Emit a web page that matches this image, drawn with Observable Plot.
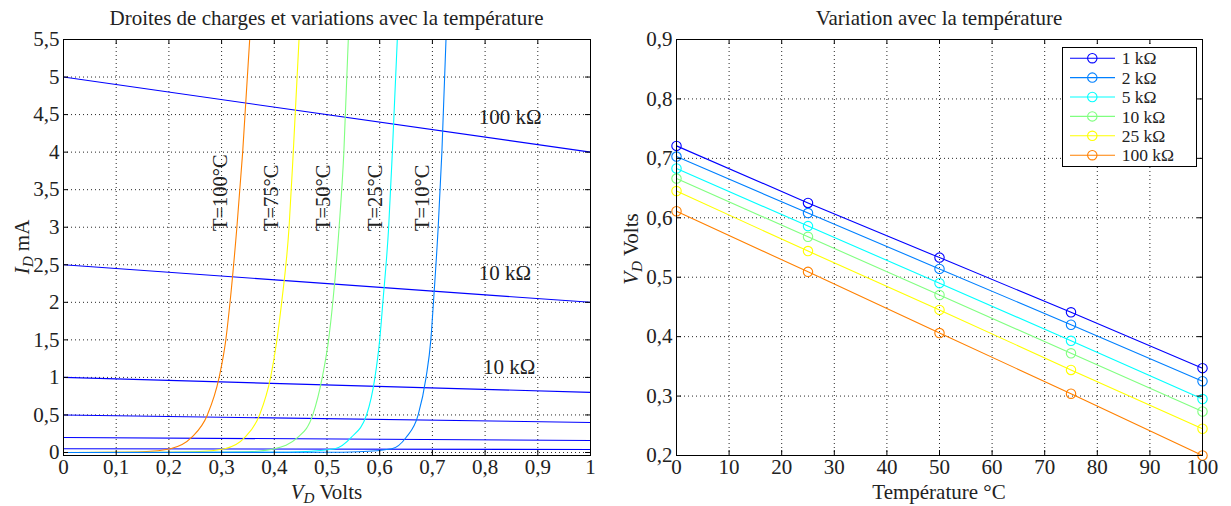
<!DOCTYPE html>
<html><head><meta charset="utf-8">
<script src="https://cdn.jsdelivr.net/npm/d3@7"></script>
<script src="https://cdn.jsdelivr.net/npm/@observablehq/plot@0.6"></script>
<style>
body{margin:0;background:#fff;}
#wrap{position:relative;width:1231px;height:506px;overflow:hidden;background:#fff;}
#wrap svg{position:absolute;top:0;}
</style></head><body><div id="wrap"></div>
<script>
// ---------- Left chart data ----------
const leftXTicks = [0, 0.1, 0.2, 0.3, 0.4, 0.5, 0.6, 0.7, 0.8, 0.9, 1];
const leftYTicks = [0, 0.5, 1, 1.5, 2, 2.5, 3, 3.5, 4, 4.5, 5, 5.5];
const loadStartI = [5, 2.5, 1, 0.5, 0.2, 0.05];   // mA at VD = 0
const loadEndI   = [4, 2, 0.8, 0.4, 0.16, 0.04];  // mA at VD = 1
const loadLabels = ["100 kΩ", "10 kΩ", "10 kΩ"];
const loadLabelX = [0.788, 0.788, 0.796];
const loadLabelY = [4.46, 2.39, 1.135];
const curveNames  = ["T=100°C", "T=75°C", "T=50°C", "T=25°C", "T=10°C"];
const curveColors = ["#ff8000", "#ffff00", "#80ff80", "#00ffff", "#0080ff"];
const curveLabelX = [0.297, 0.395, 0.493, 0.591, 0.682];
const curveLabelY = [2.95, 2.95, 2.95, 2.95, 2.95];
const curveI   = [0, 0.003, 0.01, 0.05, 0.2, 0.5, 1, 1.5, 2, 3, 4, 5.5];
const curveV100 = [0, 0.10, 0.15, 0.203, 0.243, 0.273, 0.2953, 0.308, 0.316, 0.329, 0.340, 0.3533];
const curveV75  = [0, 0.20, 0.25, 0.306, 0.344, 0.372, 0.393, 0.405, 0.414, 0.428, 0.436, 0.4469];
const curveV50  = [0, 0.30, 0.35, 0.400, 0.4445, 0.473, 0.491, 0.503, 0.511, 0.523, 0.532, 0.5404];
const curveV25  = [0, 0.40, 0.45, 0.515, 0.546, 0.575, 0.591, 0.600, 0.606, 0.617, 0.624, 0.6334];
const curveV10  = [0, 0.50, 0.56, 0.623, 0.650, 0.673, 0.688, 0.697, 0.702, 0.711, 0.718, 0.7258];

// ---------- Right chart data ----------
const rightXTicks = [0, 10, 20, 30, 40, 50, 60, 70, 80, 90, 100];
const rightYTicks = [0.2, 0.3, 0.4, 0.5, 0.6, 0.7, 0.8, 0.9];
const temps = [0, 25, 50, 75, 100];
const resLabels = ["1 kΩ", "2 kΩ", "5 kΩ", "10 kΩ", "25 kΩ", "100 kΩ"];
const resColors = ["#0000ff", "#0080ff", "#00ffff", "#80ff80", "#ffff00", "#ff8000"];
const vd1k   = [0.721, 0.625, 0.533, 0.441, 0.347];
const vd2k   = [0.703, 0.608, 0.514, 0.420, 0.325];
const vd5k   = [0.683, 0.586, 0.490, 0.393, 0.295];
const vd10k  = [0.666, 0.568, 0.470, 0.372, 0.274];
const vd25k  = [0.645, 0.544, 0.445, 0.344, 0.245];
const vd100k = [0.611, 0.509, 0.406, 0.304, 0.200];

// ---------- build tables ----------
const loads = loadStartI.map((s, i) => ({s, e: loadEndI[i]}));
const curveVs = [curveV100, curveV75, curveV50, curveV25, curveV10];
const curvePts = curveVs.flatMap((vs, k) => vs.map((v, j) => ({V: v, I: curveI[j], T: curveNames[k]})));
const curveLbls = curveNames.map((n, k) => ({n, x: curveLabelX[k], y: curveLabelY[k]}));
const loadLbls = loadLabels.map((n, k) => ({n, x: loadLabelX[k], y: loadLabelY[k]}));
const vdSeries = [vd1k, vd2k, vd5k, vd10k, vd25k, vd100k];
const rightPts = vdSeries.flatMap((vs, k) => vs.map((v, j) => ({t: temps[j], v, r: resLabels[k]})));

const FONT = "'Liberation Serif', 'Times New Roman', serif";
const FS = 21;
const fmt = d => String(d).replace(".", ",");
const grid = {stroke: "#000", strokeOpacity: 0.85, strokeDasharray: "1,3", strokeWidth: 1};
const H = 506, MT = 39, MB = 51;
const FH = H - MT - MB;

function inwardTicks(xt, yt, fw) {
  return [
    Plot.tickX(xt, {x: d => d, insetTop: FH - 5, stroke: "#000"}),
    Plot.tickX(xt, {x: d => d, insetBottom: FH - 5, stroke: "#000"}),
    Plot.tickY(yt, {y: d => d, insetRight: fw - 5, stroke: "#000"}),
    Plot.tickY(yt, {y: d => d, insetLeft: fw - 5, stroke: "#000"})
  ];
}

// ---------- Left plot ----------
const LW = 610, LML = 63, LMR = 20;
const left = Plot.plot({
  width: LW, height: H, marginLeft: LML, marginRight: LMR, marginTop: MT, marginBottom: MB,
  style: {fontFamily: FONT, fontSize: FS + "px", color: "#000", background: "transparent", overflow: "visible"},
  x: {domain: [0, 1]},
  y: {domain: [-0.04, 5.5]},
  marks: [
    Plot.gridX(leftXTicks, grid),
    Plot.gridY(leftYTicks, grid),
    Plot.link(loads, {x1: () => 0, y1: "s", x2: () => 1, y2: "e", stroke: "#0000ff", strokeWidth: 1.1}),
    Plot.line(curvePts, {x: "V", y: "I", z: "T", stroke: d => curveColors[curveNames.indexOf(d.T)], curve: "monotone-x", strokeWidth: 1.1, clip: true}),
    Plot.text(curveLbls, {x: "x", y: "y", text: "n", rotate: -90, textAnchor: "start", fontSize: 20.5, fill: "#222"}),
    Plot.text(loadLbls, {x: "x", y: "y", text: "n", textAnchor: "start", fontSize: 21, fill: "#222"}),
    Plot.frame({stroke: "#000"}),
    ...inwardTicks(leftXTicks, leftYTicks, LW - LML - LMR),
    Plot.axisX(leftXTicks, {tickSize: 0, tickPadding: 4, tickFormat: fmt, label: null, fill: "#222"}),
    Plot.axisY(leftYTicks, {tickSize: 0, tickPadding: 4, tickFormat: fmt, label: null, fill: "#222"})
  ]
});
left.style.left = "0px";

// ---------- Right plot ----------
const RX = 615, RW = 616, RML = 61, RMR = 29;
const right = Plot.plot({
  width: RW, height: H, marginLeft: RML, marginRight: RMR, marginTop: MT, marginBottom: MB,
  style: {fontFamily: FONT, fontSize: FS + "px", color: "#000", background: "transparent", overflow: "visible"},
  x: {domain: [0, 100]},
  y: {domain: [0.2, 0.9]},
  color: {domain: resLabels, range: resColors},
  marks: [
    Plot.gridX(rightXTicks, grid),
    Plot.gridY(rightYTicks, grid),
    Plot.line(rightPts, {x: "t", y: "v", z: "r", stroke: "r", strokeWidth: 1.1}),
    Plot.dot(rightPts, {x: "t", y: "v", stroke: "r", r: 4.7, fill: "none", strokeWidth: 1.1}),
    Plot.frame({stroke: "#000"}),
    ...inwardTicks(rightXTicks, rightYTicks, RW - RML - RMR),
    Plot.axisX(rightXTicks, {tickSize: 0, tickPadding: 4, tickFormat: fmt, label: null, fill: "#222"}),
    Plot.axisY(rightYTicks, {tickSize: 0, tickPadding: 4, tickFormat: fmt, label: null, fill: "#222"})
  ]
});
right.style.left = RX + "px";

const wrap = document.getElementById("wrap");
wrap.appendChild(left);
wrap.appendChild(right);

// ---------- titles & axis labels ----------
function addText(svg, x, y, parts, opts = {}) {
  const t = d3.select(svg).append("text")
    .attr("x", x).attr("y", y)
    .attr("text-anchor", "middle")
    .attr("font-family", FONT).attr("font-size", opts.fs || 21)
    .attr("fill", "#222");
  if (opts.rotate) t.attr("transform", `rotate(-90,${x},${y})`);
  for (const p of parts) {
    const s = t.append("tspan").text(p.t);
    if (p.i) s.attr("font-style", "italic");
    if (p.sub) s.attr("font-size", "0.72em").attr("dy", 4);
    if (p.up) s.attr("dy", -4);
  }
  return t;
}
const lcx = LML + (LW - LML - LMR) / 2;
const rcx = RML + (RW - RML - RMR) / 2;
addText(left, lcx, 25, [{t: "Droites de charges et variations avec la température"}]);
addText(right, rcx, 25, [{t: "Variation avec la température"}]);
addText(left, lcx, 499, [{t: "V", i: true}, {t: "D", i: true, sub: true}, {t: " Volts", up: true}]);
addText(right, rcx, 499, [{t: "Température °C"}]);
addText(left, 29, 247, [{t: "I", i: true}, {t: "D", i: true, sub: true}, {t: " mA", up: true}], {rotate: true});
addText(right, 23, 249, [{t: "V", i: true}, {t: "D", i: true, sub: true}, {t: " Volts", up: true}], {rotate: true});

// ---------- legend ----------
const lg = d3.select(right).append("g").attr("text-anchor", "start");
const bx = 447, by = 47, bw = 134, bh = 119, step = 19.4, y0 = 58.2;
lg.append("rect").attr("x", bx + 0.5).attr("y", by + 0.5).attr("width", bw).attr("height", bh)
  .attr("fill", "#fff").attr("stroke", "#000");
resLabels.forEach((lab, k) => {
  const yy = y0 + k * step;
  lg.append("line").attr("x1", 455).attr("x2", 500).attr("y1", yy).attr("y2", yy)
    .attr("stroke", resColors[k]).attr("stroke-width", 1.1);
  lg.append("circle").attr("cx", 477.3).attr("cy", yy).attr("r", 4.7)
    .attr("fill", "none").attr("stroke", resColors[k]).attr("stroke-width", 1.1);
  lg.append("text").attr("x", 506.7).attr("y", yy).attr("dy", "0.35em").attr("text-anchor", "start")
    .attr("font-family", FONT).attr("font-size", 17.5).attr("fill", "#222").text(lab);
});
</script></body></html>
